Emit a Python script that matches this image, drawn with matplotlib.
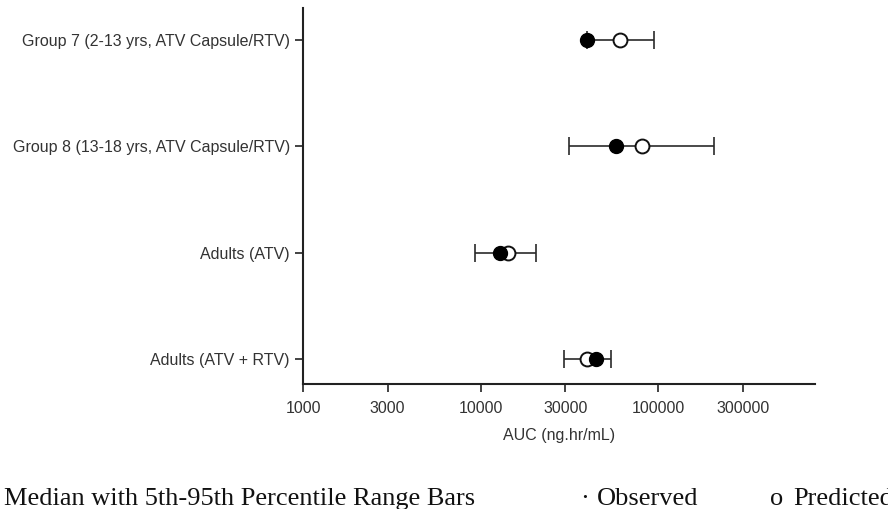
import matplotlib.pyplot as plt
import numpy as np

groups = ["Group 7 (2-13 yrs, ATV Capsule/RTV)",
          "Group 8 (13-18 yrs, ATV Capsule/RTV)",
          "Adults (ATV)",
          "Adults (ATV + RTV)"]
observed = [39800, 57900, 12900, 44800]
predicted = [61000, 81300, 14300, 39800]
p5 = [40000, 31600, 9300, 29600]
p95 = [94800, 206500, 20500, 54300]
xticks = [1000, 3000, 10000, 30000, 100000, 300000]

yval = np.arange(len(groups), 0, -1)

fig = plt.figure(figsize=(8.88, 5.09), dpi=100)
ax = fig.add_axes([303 / 888, 1 - 384 / 509, 512 / 888, 376 / 509])

pred = np.array(predicted)
xerr = [pred - np.array(p5), np.array(p95) - pred]
ax.errorbar(pred, yval, xerr=xerr, fmt="none", ecolor="#2a2a2a", elinewidth=1.2,
            capsize=6.5, capthick=1.2, zorder=1)
ax.plot(predicted, yval, "o", ms=10, mfc="white", mec="#111111", mew=1.4, zorder=2)
ax.plot(observed, yval, "o", ms=10, mfc="black", mec="black", zorder=3)

ax.set_xscale("log")
ax.set_xlim(1000, 10 ** (3 + 512 / 177.5))
ax.set_ylim(0.765, 4.3)
ax.set_xticks(xticks)
ax.set_xticklabels([str(t) for t in xticks])
ax.xaxis.set_minor_locator(plt.NullLocator())
ax.set_yticks(yval)
ax.set_yticklabels(groups)
for s in ["top", "right"]:
    ax.spines[s].set_visible(False)
for s in ["left", "bottom"]:
    ax.spines[s].set_linewidth(1.5)
    ax.spines[s].set_color("#222222")
ax.tick_params(axis="both", direction="out", length=6, width=1.2, colors="#222222",
               labelsize=11.5, labelcolor="#333333")
ax.tick_params(axis="x", pad=6)
for lab in ax.get_xticklabels() + ax.get_yticklabels():
    lab.set_family("Liberation Sans")
ax.set_xlabel("AUC (ng.hr/mL)", family="Liberation Sans", fontsize=11.5, color="#333333",
              labelpad=9)

serif = dict(family="Liberation Serif", fontsize=19, color="#111111", va="baseline")
base = 1 - 505 / 509
fig.text(4 / 888, base, "Median with 5th-95th Percentile Range Bars", **serif)
fig.text(580 / 888, base, "\u00b7", **serif)
fig.text(597 / 888, base, "Observed", **serif)
fig.text(770 / 888, base, "o", **serif)
fig.text(793 / 888, base, "Predicted", **serif)

fig.savefig("out.png", dpi=100)
